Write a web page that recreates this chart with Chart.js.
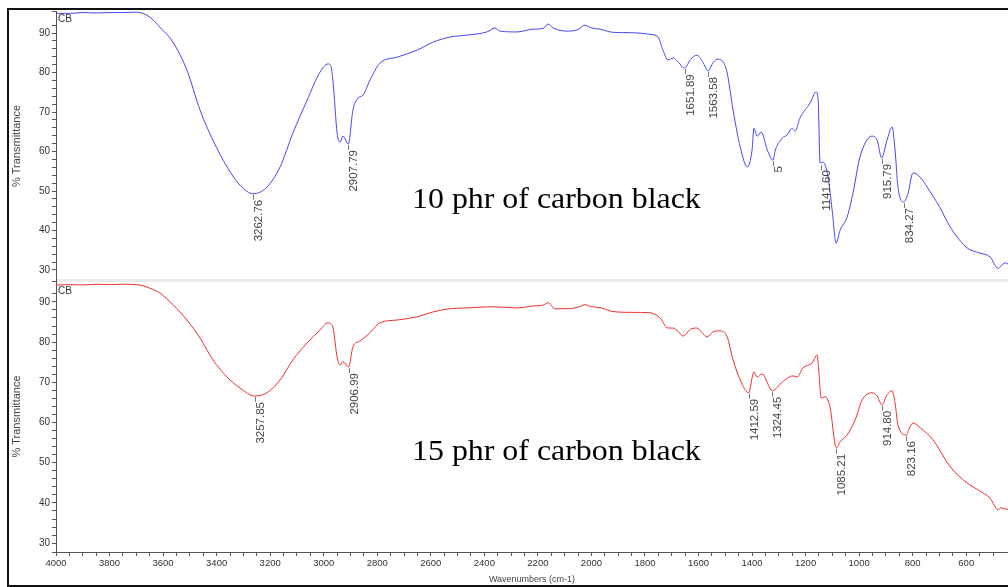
<!DOCTYPE html>
<html>
<head>
<meta charset="utf-8">
<title>FTIR spectra - carbon black</title>
<script src="https://cdn.jsdelivr.net/npm/chart.js@4.4.1/dist/chart.umd.min.js"></script>
<style>
    body { margin: 0; width: 1008px; height: 587px; overflow: hidden; position: relative; background: #fff;
           font-family: "Liberation Sans", Arial, sans-serif; }
    .panel { position: absolute; left: 0; width: 1008px; }
    #topPanel { top: 0; height: 281px; }
    #botPanel { top: 281px; height: 306px; }
    #frame { position: absolute; left: 7px; top: 8px; width: 1020px; height: 579px; border: 2px solid #111;
             border-right: none; box-sizing: border-box; pointer-events: none; }
    #sep { position: absolute; left: 57px; top: 279px; width: 951px; height: 3px; background: #ebebeb; }
    .cb { position: absolute; left: 58px; font-size: 10px; line-height: 1; color: #333; }
    .note { position: absolute; left: 412px; font-family: "Liberation Serif", "Times New Roman", serif;
            font-size: 29px; line-height: 1; color: #000; white-space: nowrap;
            transform: scaleX(1.1); transform-origin: left center; }
</style>
</head>
<body>
<div class="panel" id="topPanel"><canvas id="topChart" width="1008" height="281"></canvas></div>
<div class="panel" id="botPanel"><canvas id="botChart" width="1008" height="306"></canvas></div>
<div id="sep"></div>
<div class="cb" style="top:14px">CB</div>
<div class="cb" style="top:286px">CB</div>
<div class="note" style="top:184px">10 phr of carbon black</div>
<div class="note" style="top:436px">15 phr of carbon black</div>
<div id="frame"></div>

<script>
// ---------------------------------------------------------------
// DATA
// ---------------------------------------------------------------

// 10 phr (top, blue)
var topWn = [4000, 3950, 3900, 3850, 3800, 3750, 3700, 3675, 3645, 3612,
             3563, 3511, 3462, 3414, 3361, 3313, 3263, 3212, 3163, 3115,
             3062, 3014, 2984, 2974, 2965, 2950, 2939, 2928, 2908, 2891,
             2872, 2853, 2827, 2790, 2726, 2651, 2592, 2528, 2465, 2390,
             2360, 2341, 2278, 2218, 2180, 2162, 2143, 2091, 2050, 2024,
             2000, 1968, 1919, 1850, 1781, 1751, 1733, 1714, 1695, 1675,
             1652, 1630, 1606, 1585, 1564, 1545, 1527, 1508, 1493, 1471,
             1444, 1418, 1400, 1393, 1381, 1366, 1343, 1322, 1313, 1287,
             1269, 1251, 1239, 1221, 1183, 1161, 1153, 1146, 1135, 1116,
             1101, 1086, 1071, 1045, 1023, 997, 952, 933, 916, 896,
             877, 866, 855, 834, 817, 799, 772, 746, 700, 660,
             597, 550, 511, 481, 470, 455, 444];
var topT  = [95.0, 95.0, 95.2, 95.1, 95.2, 95.2, 95.3, 95.0, 93.8, 91.5,
             87.7, 80.6, 70.5, 62.9, 56.1, 51.5, 49.3, 51.0, 56.1, 64.7,
             73.0, 80.1, 82.2, 81.8, 77.5, 64.7, 62.4, 63.9, 61.9, 70.5,
             73.5, 74.3, 78.1, 82.4, 83.9, 85.7, 87.7, 89.0, 89.5, 90.3,
             91.3, 90.5, 90.3, 91.0, 91.2, 92.3, 91.3, 90.5, 90.9, 92.0,
             91.3, 91.0, 90.2, 90.1, 89.7, 89.0, 85.7, 83.2, 83.7, 82.6,
             81.1, 83.3, 84.4, 82.8, 80.4, 82.6, 83.4, 82.7, 79.9, 70.5,
             61.1, 56.1, 60.4, 65.9, 63.9, 64.9, 60.4, 57.8, 60.4, 63.4,
             64.2, 65.9, 65.2, 68.5, 72.3, 75.1, 73.0, 57.1, 57.3, 53.5,
             45.2, 36.8, 40.1, 43.4, 49.5, 58.6, 63.9, 62.9, 58.4, 62.9,
             66.2, 60.4, 51.0, 47.2, 49.5, 54.6, 53.5, 51.0, 46.0, 40.9,
             35.6, 34.3, 33.3, 30.4, 31.0, 31.8, 31.5];

// 15 phr (bottom, red)
var botWn = [4000, 3950, 3900, 3850, 3800, 3750, 3700, 3675, 3645, 3612,
             3563, 3511, 3462, 3414, 3361, 3313, 3258, 3212, 3163, 3115,
             3062, 3014, 2984, 2974, 2965, 2950, 2939, 2928, 2907, 2891,
             2864, 2835, 2790, 2726, 2651, 2592, 2528, 2465, 2368, 2278,
             2218, 2180, 2162, 2136, 2091, 2050, 2024, 2000, 1968, 1919,
             1850, 1781, 1744, 1714, 1695, 1675, 1658, 1630, 1606, 1585,
             1568, 1545, 1520, 1493, 1471, 1444, 1413, 1393, 1381, 1363,
             1324, 1287, 1247, 1232, 1210, 1176, 1157, 1150, 1142, 1127,
             1109, 1085, 1071, 1045, 1015, 989, 952, 933, 915, 896,
             877, 866, 855, 823, 813, 799, 772, 724, 660, 597,
             550, 511, 481, 470, 455, 444];
var botT  = [94.2, 94.3, 94.2, 94.4, 94.3, 94.4, 94.3, 94.0, 93.3, 92.2,
             89.3, 85.5, 81.0, 75.6, 71.3, 68.6, 66.6, 67.4, 70.6, 75.6,
             79.8, 83.0, 84.8, 84.6, 83.5, 76.3, 74.3, 75.1, 73.8, 78.8,
             80.3, 81.8, 84.8, 85.5, 86.3, 87.5, 88.3, 88.5, 88.8, 88.5,
             89.0, 89.2, 89.8, 88.3, 88.3, 88.7, 89.3, 88.8, 88.6, 87.6,
             87.4, 87.3, 86.0, 83.5, 83.5, 82.6, 81.5, 83.2, 83.5, 82.2,
             81.3, 82.6, 82.8, 81.3, 75.6, 70.6, 67.4, 72.6, 71.3, 72.1,
             67.9, 70.1, 71.6, 71.3, 73.6, 74.8, 76.8, 72.3, 66.1, 66.4,
             63.9, 53.7, 55.2, 56.9, 60.6, 65.6, 67.4, 66.6, 64.4, 66.9,
             67.9, 64.9, 59.4, 56.9, 58.5, 59.9, 58.7, 55.7, 49.0, 45.0,
             43.0, 41.2, 38.3, 38.8, 38.5, 38.4];

// peak markers
var topPeakWn   = [3262.76, 2907.79, 1651.89, 1563.58, 1322, 1141.60, 915.79, 834.27];
var topPeakT    = [49.3, 61.9, 81.1, 80.4, 57.8, 56.8, 58.4, 47.2];
var topPeakText = ['3262.76', '2907.79', '1651.89', '1563.58', '5', '1141.60', '915.79', '834.27'];

var botPeakWn   = [3257.85, 2906.99, 1412.59, 1324.45, 1085.21, 914.80, 823.16];
var botPeakT    = [66.6, 73.8, 67.4, 67.9, 53.7, 64.4, 56.9];
var botPeakText = ['3257.85', '2906.99', '1412.59', '1324.45', '1085.21', '914.80', '823.16'];

// axes
var xMin = 444, xMax = 4000;
var xStep = 50, xLabelEvery = 200;
var yStep = 2, yLabelEvery = 10;

// ---------------------------------------------------------------
// HELPERS
// ---------------------------------------------------------------

Chart.defaults.font.family = '"Liberation Sans", Arial, sans-serif';

function toPoints(wn, t) {
    return wn.map(function (w, i) { return { x: w, y: t[i] }; });
}

var peakLabels = {
    id: 'peakLabels',
    afterDatasetsDraw: function (chart, args, opts) {
        var ctx = chart.ctx;
        var xs = chart.scales.x, ys = chart.scales.y;
        ctx.save();
        ctx.font = '11.5px "Liberation Sans", Arial, sans-serif';
        ctx.fillStyle = '#444';
        ctx.strokeStyle = '#777';
        ctx.lineWidth = 1;
        opts.wn.forEach(function (w, i) {
            var px = Math.round(xs.getPixelForValue(w)) + 0.5;
            var py = ys.getPixelForValue(opts.t[i]);
            ctx.beginPath();
            ctx.moveTo(px, py + 1);
            ctx.lineTo(px, py + 6);
            ctx.stroke();
            ctx.save();
            ctx.translate(px + 5, py + 6);
            ctx.rotate(-Math.PI / 2);
            ctx.textAlign = 'right';
            ctx.textBaseline = 'middle';
            ctx.fillText(opts.text[i], 0, 0);
            ctx.restore();
        });
        ctx.restore();
    }
};

function yAxis(min, max) {
    return {
        type: 'linear',
        min: min, max: max,
        border: { display: true, color: '#555', width: 1 },
        grid: { drawOnChartArea: false, drawTicks: true, tickLength: 4, color: '#555' },
        ticks: {
            stepSize: yStep, autoSkip: false, padding: 2, color: '#333',
            font: { size: 10 },
            callback: function (v) { return Math.abs(v % yLabelEvery) < 1e-6 ? String(v) : ''; }
        },
        title: { display: true, text: '% Transmittance', color: '#444', font: { size: 11 }, padding: { top: 10, bottom: 0 } },
        afterFit: function (s) { s.width = 56; s.paddingTop = 0; s.paddingBottom = 0; }
    };
}

function xAxis(show) {
    return {
        type: 'linear',
        reverse: true,
        min: xMin, max: xMax,
        display: show,
        border: { display: true, color: '#555', width: 1 },
        grid: { drawOnChartArea: false, drawTicks: true, tickLength: 4, color: '#555' },
        ticks: {
            stepSize: xStep, autoSkip: false, maxRotation: 0, padding: 2, color: '#333',
            font: { size: 9.5 },
            callback: function (v) { return v % xLabelEvery === 0 ? String(v) : ''; }
        },
        title: { display: true, text: 'Wavenumbers (cm-1)', color: '#444', font: { size: 9 }, padding: { top: 0, bottom: 2 } },
        afterFit: function (s) {
            s.height = show ? 35 : 0;
            s.paddingLeft = 0;
            s.paddingRight = 0;
        }
    };
}

function buildPanel(canvasId, wn, t, color, yMin, yMax, showX, pad, peaks) {
    return new Chart(document.getElementById(canvasId).getContext('2d'), {
        type: 'line',
        data: {
            datasets: [{
                data: toPoints(wn, t),
                borderColor: color,
                borderWidth: 1,
                pointRadius: 0,
                cubicInterpolationMode: 'monotone',
                fill: false
            }]
        },
        options: {
            responsive: false,
            animation: false,
            events: [],
            layout: { padding: pad },
            plugins: {
                legend: { display: false },
                tooltip: { enabled: false },
                peakLabels: peaks
            },
            scales: { x: xAxis(showX), y: yAxis(yMin, yMax) }
        },
        plugins: [peakLabels]
    });
}

// ---------------------------------------------------------------
// CHARTS
// ---------------------------------------------------------------

buildPanel('topChart', topWn, topT, '#4646f8', 27.2, 95.6, false,
    { top: 11, bottom: 0, left: 0, right: 0 },
    { wn: topPeakWn, t: topPeakT, text: topPeakText });

buildPanel('botChart', botWn, botT, '#f42c2c', 27.8, 95.2, true,
    { top: 0, bottom: 0, left: 0, right: 0 },
    { wn: botPeakWn, t: botPeakT, text: botPeakText });
</script>
</body>
</html>
